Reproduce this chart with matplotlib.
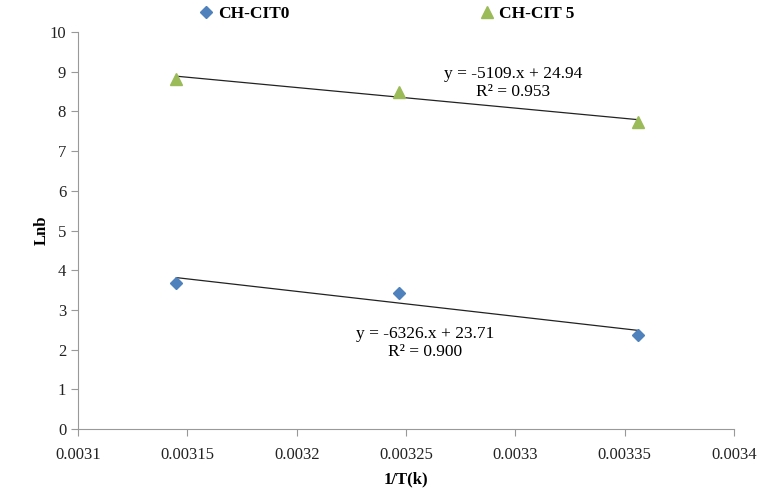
import matplotlib
matplotlib.use('Agg')
import matplotlib.pyplot as plt
import numpy as np

inv_t = [0.003145, 0.003247, 0.003356]
lnb_cit0 = [3.68, 3.43, 2.36]
lnb_cit5 = [8.82, 8.49, 7.73]
labels = ["CH-CIT0", "CH-CIT 5"]
eq_cit0 = ["y = -6326.x + 23.71", "R² = 0.900"]
eq_cit5 = ["y = -5109.x + 24.94", "R² = 0.953"]
xticks = [0.0031, 0.00315, 0.0032, 0.00325, 0.0033, 0.00335, 0.0034]

plt.rcParams['font.family'] = ['Liberation Serif', 'DejaVu Serif']

fig = plt.figure(figsize=(7.59, 4.93), dpi=100)
ax = fig.add_axes([0.1028, 0.1298, 0.8642, 0.8052])

x = np.array(inv_t)
h0, = ax.plot(x, lnb_cit0, linestyle='none', marker='D', markersize=6,
              color='#4F81BD', label=labels[0])
h5, = ax.plot(x, lnb_cit5, linestyle='none', marker='^', markersize=8,
              color='#9BBB59', label=labels[1])

# linear trendlines, first to last point
for ys in (lnb_cit0, lnb_cit5):
    k, b = np.polyfit(x, ys, 1)
    ax.plot(x[[0, -1]], k * x[[0, -1]] + b, color='#222222', linewidth=0.9, zorder=1)

ax.set_xlim(0.0031, 0.0034)
ax.set_ylim(0, 10)
ax.set_xticks(xticks)
ax.set_xticklabels([f"{t:g}" for t in xticks])
ax.set_yticks(range(0, 11))

for side in ('top', 'right'):
    ax.spines[side].set_visible(False)
for side in ('left', 'bottom'):
    ax.spines[side].set_color('#999999')
ax.tick_params(direction='out', length=5, color='#999999', labelsize=12,
               labelcolor='#222222')
ax.tick_params(axis='x', pad=8)

ax.set_xlabel("1/T(k)", fontsize=12, fontweight='bold', labelpad=6)
ax.set_ylabel("Lnb", fontsize=12, fontweight='bold', labelpad=0)

ax.text(0.664, 0.885, eq_cit5[0], transform=ax.transAxes, ha='center', fontsize=12.5)
ax.text(0.664, 0.84, eq_cit5[1], transform=ax.transAxes, ha='center', fontsize=12.5)
ax.text(0.529, 0.23, eq_cit0[0], transform=ax.transAxes, ha='center', fontsize=12.5)
ax.text(0.529, 0.185, eq_cit0[1], transform=ax.transAxes, ha='center', fontsize=12.5)

ax.legend(handles=[h0, h5], loc='lower left', bbox_to_anchor=(0.155, 0.985),
          ncol=2, frameon=False, columnspacing=10.8, handletextpad=0.1,
          handlelength=1.2, prop={'weight': 'bold', 'size': 12.5})

fig.savefig("out.png", dpi=100)
